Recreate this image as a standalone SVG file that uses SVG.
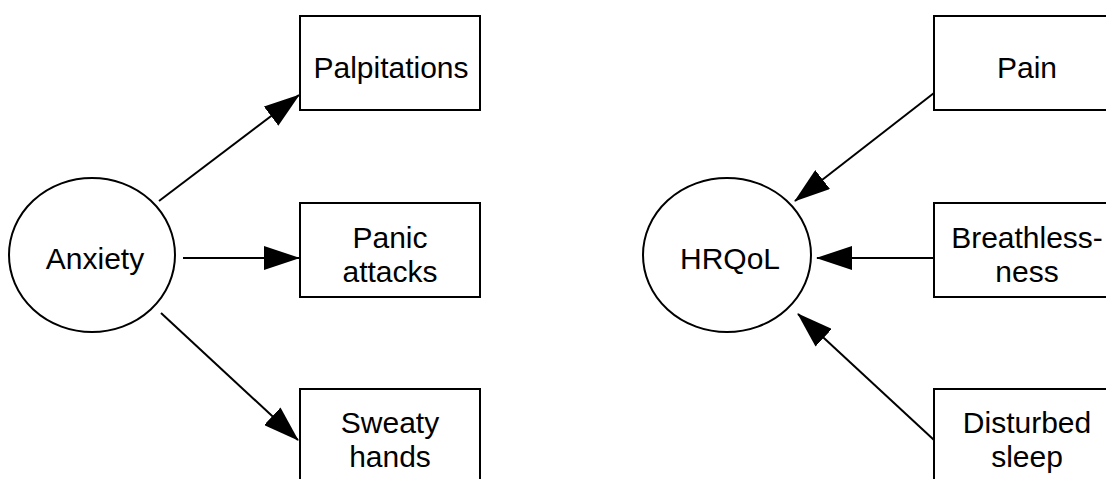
<svg xmlns="http://www.w3.org/2000/svg" width="1106" height="479" viewBox="0 0 1106 479">
  <style>
    .box { fill: #ffffff; stroke: #000000; stroke-width: 2; }
    .latent { fill: #ffffff; stroke: #000000; stroke-width: 2; }
    .label { font-family: "Liberation Sans", Arial, sans-serif; font-size: 30px; fill: #000000; text-anchor: middle; }
    .edge { stroke: #000000; stroke-width: 2; fill: none; marker-end: url(#arrow); }
  </style>
  <defs>
    <marker id="arrow" markerUnits="userSpaceOnUse" markerWidth="36" markerHeight="24" refX="35" refY="12" orient="auto">
      <path d="M0,0 L36,12 L0,24 Z" fill="#000000"/>
    </marker>
  </defs>
  <rect width="1106" height="479" fill="#ffffff"/>

  <!-- Anxiety factor and its indicators -->
  <g id="anxiety">
    <ellipse class="latent" cx="92" cy="255" rx="83" ry="77"/>
    <text class="label" x="95" y="269">Anxiety</text>
  </g>
  <g id="palpitations">
    <rect class="box" x="300" y="16" width="180" height="94"/>
    <text class="label" x="391" y="78">Palpitations</text>
  </g>
  <g id="panic-attacks">
    <rect class="box" x="300" y="203" width="180" height="94"/>
    <text class="label" x="390" y="248">Panic</text>
    <text class="label" x="390" y="282">attacks</text>
  </g>
  <g id="sweaty-hands">
    <rect class="box" x="300" y="389" width="180" height="100"/>
    <text class="label" x="390" y="433">Sweaty</text>
    <text class="label" x="390" y="467">hands</text>
  </g>

  <!-- HRQoL outcome and its predictors -->
  <g id="hrqol">
    <ellipse class="latent" cx="727" cy="255" rx="84" ry="77"/>
    <text class="label" x="730" y="269">HRQoL</text>
  </g>
  <g id="pain">
    <rect class="box" x="934" y="16" width="186" height="94"/>
    <text class="label" x="1027" y="78">Pain</text>
  </g>
  <g id="breathlessness">
    <rect class="box" x="934" y="203" width="186" height="94"/>
    <text class="label" x="1027" y="248">Breathless-</text>
    <text class="label" x="1027" y="282">ness</text>
  </g>
  <g id="disturbed-sleep">
    <rect class="box" x="934" y="389" width="186" height="100"/>
    <text class="label" x="1027" y="433">Disturbed</text>
    <text class="label" x="1027" y="467">sleep</text>
  </g>

  <g id="connectors">
    <line class="edge" x1="159" y1="201" x2="299" y2="95"/>
    <line class="edge" x1="183" y1="258" x2="299" y2="258"/>
    <line class="edge" x1="161" y1="313" x2="298" y2="440"/>
    <line class="edge" x1="934" y1="93" x2="795" y2="201"/>
    <line class="edge" x1="934" y1="258" x2="817" y2="258"/>
    <line class="edge" x1="934" y1="440" x2="798" y2="314"/>
  </g>
</svg>
